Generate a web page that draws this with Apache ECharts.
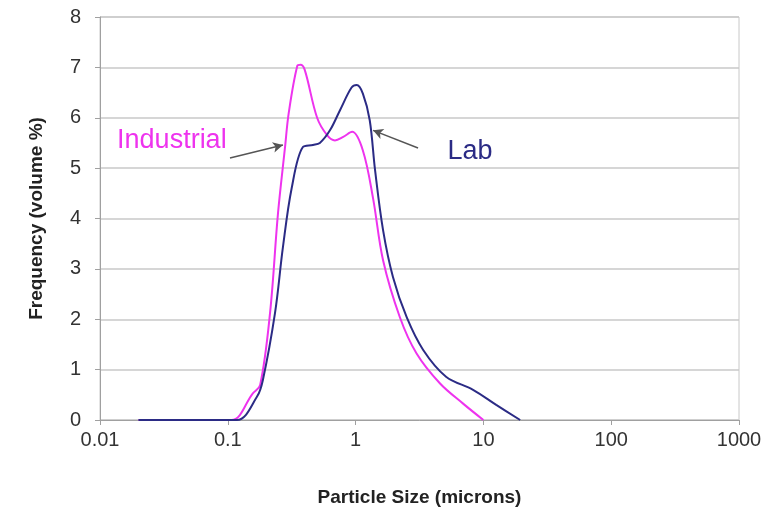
<!DOCTYPE html>
<html>
<head>
<meta charset="utf-8">
<script src="https://cdn.jsdelivr.net/npm/echarts@6/dist/echarts.min.js"></script>
<style>html,body{margin:0;padding:0;background:#fff}#c{width:783px;height:522px}</style>
</head>
<body>
<div id="c"></div>
<script>
// Particle sizes (microns) and frequencies (volume %)
var industrialX = [0.02, 0.05, 0.107, 0.157, 0.179, 0.214, 0.247, 0.28, 0.30, 0.35, 0.37, 0.40, 0.50, 0.60, 0.69, 0.80, 0.94, 1.14, 1.37, 1.64, 2.22, 3.0, 4.56, 6.9, 10];
var industrialY = [0, 0, 0, 0.53, 0.69, 2.12, 4.1, 5.4, 6.1, 7.03, 7.05, 6.95, 6.0, 5.65, 5.55, 5.62, 5.72, 5.35, 4.4, 3.17, 2.04, 1.32, 0.73, 0.33, 0];
var labX = [0.02, 0.05, 0.118, 0.169, 0.188, 0.234, 0.27, 0.316, 0.387, 0.464, 0.525, 0.63, 0.755, 0.93, 1.02, 1.14, 1.29, 1.42, 1.64, 1.96, 2.51, 3.38, 5.1, 8.3, 12.6, 19.4];
var labY = [0, 0, 0, 0.46, 0.79, 2.12, 3.43, 4.6, 5.42, 5.46, 5.5, 5.75, 6.15, 6.6, 6.65, 6.48, 5.95, 4.96, 3.77, 2.84, 2.04, 1.39, 0.86, 0.6, 0.3, 0];
var xTicks = [0.01, 0.1, 1, 10, 100, 1000];
var yMin = 0, yMax = 8, yStep = 1;
var industrialLabel = {text: 'Industrial', x: 0.0365, y: 5.54};
var labLabel = {text: 'Lab', x: 7.85, y: 5.32};
var industrialArrow = [[0.104, 5.2], [0.27, 5.46]];
var labArrow = [[3.08, 5.4], [1.37, 5.75]];

function zip(xs, ys) { return xs.map(function (v, i) { return [v, ys[i]]; }); }

var FONT = 'Liberation Sans, Arial, sans-serif';
var chart = echarts.init(document.getElementById('c'), null, {renderer: 'canvas'});
var arrowStyle = {color: '#555555', width: 1.5, type: 'solid'};

chart.setOption({
  animation: false,
  backgroundColor: '#ffffff',
  grid: {left: 100, right: 44, top: 17, bottom: 102, show: true, borderColor: '#c8c8c8', borderWidth: 1},
  xAxis: {
    type: 'log', logBase: 10, min: xTicks[0], max: xTicks[xTicks.length - 1],
    name: 'Particle Size (microns)', nameLocation: 'middle', nameGap: 68,
    nameTextStyle: {fontFamily: FONT, fontWeight: 'bold', fontSize: 19, color: '#222'},
    axisLine: {show: true, lineStyle: {color: '#a0a0a0', width: 1}},
    axisTick: {show: true, length: 5, lineStyle: {color: '#a0a0a0'}},
    minorTick: {show: false},
    splitLine: {show: false},
    axisLabel: {fontFamily: FONT, fontSize: 20, color: '#333', margin: 10,
      formatter: function (v) { return String(Number(v.toPrecision(6))); }}
  },
  yAxis: {
    type: 'value', min: yMin, max: yMax, interval: yStep,
    name: 'Frequency (volume %)', nameLocation: 'middle', nameGap: 54,
    nameTextStyle: {fontFamily: FONT, fontWeight: 'bold', fontSize: 19, color: '#222'},
    axisLine: {show: true, lineStyle: {color: '#a0a0a0', width: 1}},
    axisTick: {show: true, length: 5, lineStyle: {color: '#a0a0a0'}},
    splitLine: {show: true, lineStyle: {color: '#c8c8c8', width: 1.5}},
    axisLabel: {fontFamily: FONT, fontSize: 20, color: '#333', margin: 19}
  },
  series: [
    {
      name: 'Industrial', type: 'line', data: zip(industrialX, industrialY),
      smooth: 0.35, showSymbol: false, symbol: 'none',
      lineStyle: {color: '#ee33ee', width: 2}, itemStyle: {color: '#ee33ee'},
      markPoint: {
        symbol: 'circle', symbolSize: 0,
        label: {show: true, position: 'inside', formatter: industrialLabel.text, fontFamily: FONT, fontSize: 27, color: '#ee33ee'},
        data: [{coord: [industrialLabel.x, industrialLabel.y], value: 0}]
      },
      markLine: {
        silent: true, symbol: ['none', 'arrow'], symbolSize: [8, 10], label: {show: false},
        lineStyle: arrowStyle,
        data: [[{coord: industrialArrow[0]}, {coord: industrialArrow[1]}]]
      }
    },
    {
      name: 'Lab', type: 'line', data: zip(labX, labY),
      smooth: 0.35, showSymbol: false, symbol: 'none',
      lineStyle: {color: '#2b2b85', width: 2}, itemStyle: {color: '#2b2b85'},
      markPoint: {
        symbol: 'circle', symbolSize: 0,
        label: {show: true, position: 'inside', formatter: labLabel.text, fontFamily: FONT, fontSize: 27, color: '#2b2b85'},
        data: [{coord: [labLabel.x, labLabel.y], value: 0}]
      },
      markLine: {
        silent: true, symbol: ['none', 'arrow'], symbolSize: [8, 10], label: {show: false},
        lineStyle: arrowStyle,
        data: [[{coord: labArrow[0]}, {coord: labArrow[1]}]]
      }
    }
  ]
});
</script>
</body>
</html>
